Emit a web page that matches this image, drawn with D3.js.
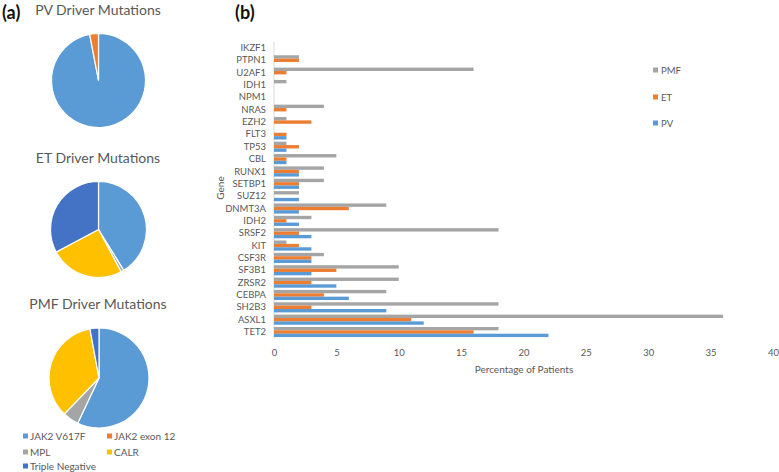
<!DOCTYPE html>
<html><head><meta charset="utf-8">
<script src="https://cdn.jsdelivr.net/npm/d3@7"></script>
<style>body{margin:0;background:#fff}svg{display:block;font-family:Lato,"Open Sans",sans-serif}</style>
</head><body><svg id="c" width="779" height="472"></svg>
<script>
// ---- data ----
const genes = ["IKZF1","PTPN1","U2AF1","IDH1","NPM1","NRAS","EZH2","FLT3","TP53","CBL","RUNX1","SETBP1","SUZ12","DNMT3A","IDH2","SRSF2","KIT","CSF3R","SF3B1","ZRSR2","CEBPA","SH2B3","ASXL1","TET2"];
const pmf = [0,2,16,1,0,4,1,0,1,5,4,4,2,9,3,18,1,4,10,10,9,18,36,18];
const et  = [0,2,1,0,0,1,3,1,2,1,2,2,0,6,1,2,2,3,5,3,4,3,11,16];
const pv  = [0,0,0,0,0,0,0,1,1,1,2,2,2,2,2,3,3,3,3,5,6,9,12,22];
const barSeries = ["PMF","ET","PV"];
const xTicks = [0,5,10,15,20,25,30,35,40];

const driverCats = ["JAK2 V617F","JAK2 exon 12","MPL","CALR","Triple Negative"];
const pvDriver  = [97,3,0,0,0];
const etDriver  = [41.2,0,1,25,32.8];
const pmfDriver = [57,0,5.2,34.9,2.9];
const pieTitles = ["PV Driver Mutations","ET Driver Mutations","PMF Driver Mutations"];

const pieColors = {"JAK2 V617F":"#5B9BD5","JAK2 exon 12":"#ED7D31","MPL":"#A5A5A5","CALR":"#FFC000","Triple Negative":"#4472C4"};
const barColors = {"PMF":"#A5A5A5","ET":"#ED7D31","PV":"#5B9BD5"};
const txt = "#595959";

const svg = d3.select("#c");

// panel labels
svg.append("text").attr("x",2).attr("y",19).attr("font-size",18).attr("font-weight","bold").attr("fill","#111").text("(a)");
svg.append("text").attr("x",235).attr("y",19).attr("font-size",18).attr("font-weight","bold").attr("fill","#111").text("(b)");

// ---- pies ----
const pies = [
  {title:pieTitles[0], vals:pvDriver, cx:98.5, cy:80.5, r:47, ty:15},
  {title:pieTitles[1], vals:etDriver, cx:98.5, cy:229.5, r:48, ty:163},
  {title:pieTitles[2], vals:pmfDriver, cx:99, cy:378, r:50, ty:309}
];
const pieGen = d3.pie().sort(null).value(d=>d.v);
const arc = d3.arc().innerRadius(0);
pies.forEach(p=>{
  svg.append("text").attr("x",98).attr("y",p.ty).attr("text-anchor","middle")
    .attr("font-size",14).attr("fill",txt).text(p.title);
  const g = svg.append("g").attr("transform",`translate(${p.cx},${p.cy})`);
  const data = driverCats.map((c,i)=>({c, v:p.vals[i]}));
  g.selectAll("path").data(pieGen(data).filter(d=>d.data.v>0)).join("path")
    .attr("d",d=>arc.outerRadius(p.r)(d))
    .attr("fill",d=>pieColors[d.data.c])
    .attr("stroke","#fff").attr("stroke-width",1.2);
});
// pie legend
const legPos = [[25,436],[109,436],[25,452],[109,452],[25,466]];
driverCats.forEach((c,i)=>{
  const [x,y] = legPos[i];
  svg.append("rect").attr("x",x-2).attr("y",y-2.5).attr("width",5).attr("height",5).attr("fill",pieColors[c]);
  svg.append("text").attr("x",x+5).attr("y",y+3.5).attr("font-size",10).attr("fill",txt).text(c);
});

// ---- bar chart ----
const x = d3.scaleLinear().domain([0,40]).range([274,773]);
const y = d3.scaleBand().domain(genes).range([41.8,338.2]).paddingInner(0.18).paddingOuter(0.09);
const sub = d3.scaleBand().domain(barSeries).range([0,y.bandwidth()]);

// y axis line
svg.append("line").attr("x1",274).attr("x2",274).attr("y1",41.8).attr("y2",338.2).attr("stroke","#D9D9D9").attr("stroke-width",1);

const groups = svg.append("g").selectAll("g").data(genes).join("g")
  .attr("transform",d=>`translate(0,${y(d)})`);
const valsBy = {PMF:pmf, ET:et, PV:pv};
barSeries.forEach(s=>{
  groups.append("rect")
    .attr("x",x(0))
    .attr("y",sub(s))
    .attr("height",sub.bandwidth())
    .attr("width",(d,i)=>x(valsBy[s][i])-x(0))
    .attr("fill",barColors[s]);
});

// category labels via axis
const yAxis = svg.append("g").attr("transform","translate(274,0)")
  .call(d3.axisLeft(y).tickSize(0).tickPadding(8));
yAxis.select(".domain").remove();
yAxis.selectAll("text").attr("font-size",9.5).attr("fill",txt).attr("font-family","Lato,'Open Sans',sans-serif");

const xAxis = svg.append("g").attr("transform","translate(0,346)")
  .call(d3.axisBottom(x).tickValues(xTicks).tickSize(0).tickPadding(3));
xAxis.select(".domain").remove();
xAxis.selectAll("text").attr("font-size",9.5).attr("fill",txt).attr("font-family","Lato,'Open Sans',sans-serif");

svg.append("text").attr("x",524).attr("y",373).attr("text-anchor","middle").attr("font-size",10).attr("fill",txt).text("Percentage of Patients");
svg.append("text").attr("transform","translate(224,188) rotate(-90)").attr("text-anchor","middle").attr("font-size",10).attr("fill",txt).text("Gene");

// bar legend
const bl = [70,97,123];
barSeries.forEach((s,i)=>{
  svg.append("rect").attr("x",653).attr("y",bl[i]-2.5).attr("width",5).attr("height",5).attr("fill",barColors[s]);
  svg.append("text").attr("x",661).attr("y",bl[i]+3.5).attr("font-size",9.5).attr("fill",txt).text(s);
});
</script></body></html>
